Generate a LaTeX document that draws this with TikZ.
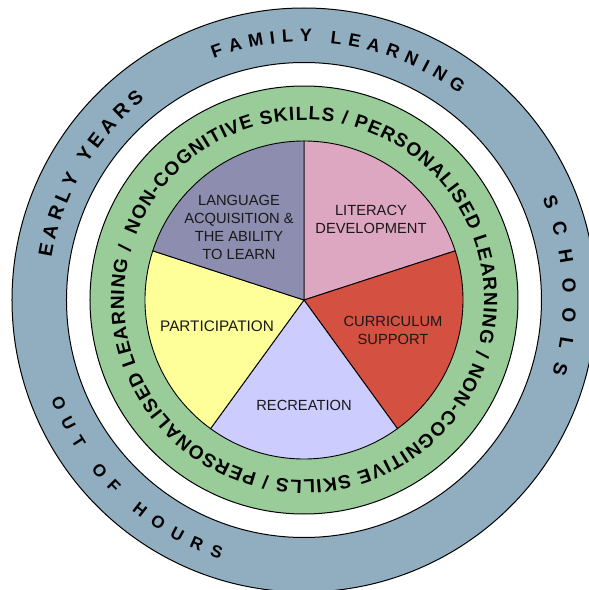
\documentclass[tikz,border=0pt]{standalone}
\usepackage{fontspec}
\setmainfont{Liberation Sans}
\usetikzlibrary{decorations.text}
\definecolor{ringblue}{HTML}{91AEC1}
\definecolor{ringgreen}{HTML}{99CC99}
\definecolor{wedgepurple}{HTML}{8D8DB0}
\definecolor{wedgepink}{HTML}{DDA6C1}
\definecolor{wedgered}{HTML}{D45040}
\definecolor{wedgeyellow}{HTML}{FFFF99}
\definecolor{wedgelilac}{HTML}{CCCCFF}
\newcommand{\ringfont}{\bfseries\fontsize{19}{20}\selectfont}
\newcommand{\earlyfont}{\bfseries\fontsize{19.5}{20}\selectfont}
\newcommand{\familyfont}{\bfseries\fontsize{18}{18}\selectfont}
\newcommand{\schoolfont}{\bfseries\fontsize{19}{20}\selectfont}
\newcommand{\hoursfont}{\bfseries\fontsize{17}{18}\selectfont}
\tikzset{
  disc/.style={draw=black,line width=1pt},
  wedge/.style={draw=black,line width=0.9pt},
  wedgelabel/.style={align=center,font=\fontsize{14.7}{18}\selectfont,text=black!90,inner sep=0pt},
  ringtext/.style={decorate,decoration={text along path,text align={fit to path},text={#1}}}
}
\begin{document}
\begin{tikzpicture}[x=1pt,y=1pt]
\useasboundingbox (-304pt,-290pt) rectangle (285pt,300pt);
\clip (-304pt,-290pt) rectangle (285pt,300pt);
\fill[white] (-304pt,-290pt) rectangle (285pt,300pt);
\draw[disc,fill=ringblue] (0,0) circle[radius=292pt];
\draw[disc,fill=white] (0,0) circle[radius=237.5pt];
\draw[disc,fill=ringgreen] (0,0) circle[radius=214pt];
% wedges
\draw[wedge,fill=wedgepink] (0,0) -- (90:159pt) arc[start angle=90,end angle=18,radius=159pt] -- cycle;
\draw[wedge,fill=wedgered] (0,0) -- (18:159pt) arc[start angle=18,end angle=-54,radius=159pt] -- cycle;
\draw[wedge,fill=wedgelilac] (0,0) -- (-54:159pt) arc[start angle=-54,end angle=-126,radius=159pt] -- cycle;
\draw[wedge,fill=wedgeyellow] (0,0) -- (-126:159pt) arc[start angle=-126,end angle=-198,radius=159pt] -- cycle;
\draw[wedge,fill=wedgepurple] (0,0) -- (162:159pt) arc[start angle=162,end angle=90,radius=159pt] -- cycle;
% wedge labels
\node[wedgelabel] (lang) at (-65pt,73pt) {LANGUAGE\\ACQUISITION \&\\THE ABILITY\\TO LEARN};
\node[wedgelabel] (lit) at (67pt,81pt) {LITERACY\\DEVELOPMENT};
\node[wedgelabel] (curr) at (89pt,-30pt) {CURRICULUM\\SUPPORT};
\node[wedgelabel] (recr) at (0pt,-105pt) {RECREATION};
\node[wedgelabel,font=\fontsize{15.3}{18}\selectfont] (part) at (-87pt,-26pt) {PARTICIPATION};
% ring texts
\path[ringtext={|\ringfont|NON-COGNITIVE SKILLS / PERSONALISED LEARNING / NON-COGNITIVE SKILLS / PERSONALISED LEARNING /}]
  (159:180pt) arc[start angle=159,end angle=-197,radius=180pt];
\path[ringtext={|\familyfont|FAMILY LEARNING}]
  (110.5:258pt) arc[start angle=110.5,end angle=53,radius=258pt];
\path[ringtext={|\earlyfont|EARLY YEARS}]
  (170.5:256pt) arc[start angle=170.5,end angle=128.5,radius=256pt];
\path[ringtext={|\schoolfont|SCHOOLS}]
  (23:259pt) arc[start angle=23,end angle=-16.5,radius=259pt];
\path[ringtext={|\hoursfont|OUT OF HOURS}]
  (201.5:272pt) arc[start angle=201.5,end angle=252,radius=272pt];
\end{tikzpicture}
\end{document}
